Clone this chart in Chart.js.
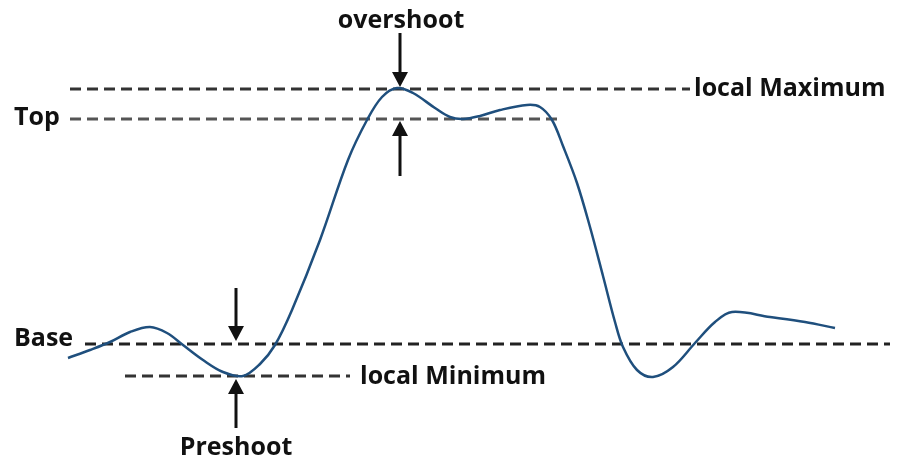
<!DOCTYPE html>
<html>
<head>
<meta charset="utf-8">
<script src="https://cdn.jsdelivr.net/npm/chart.js@4.4.0/dist/chart.umd.min.js"></script>
<style>
  html, body { margin: 0; padding: 0; background: #fff; }
  #wrap { width: 901px; height: 466px; }
</style>
</head>
<body>
<div id="wrap"><canvas id="pulseChart"></canvas></div>
<script>
// signal trace (x, y in picture units, y grows downward)
const curveX = [68, 90, 110, 130, 150, 167, 183, 203, 223, 243, 260, 275, 292, 320, 348, 367, 382, 397, 413, 435, 450, 463, 480, 500, 527, 540, 552, 563, 577, 590, 603, 615, 623, 637, 653, 673, 695, 715, 732, 770, 805, 835];
const curveY = [358, 350, 342, 332, 327, 333, 345, 360, 372, 376, 364, 345, 310, 240, 160, 120, 97, 88, 93, 108, 117, 119, 116, 110, 105, 107, 120, 146, 183, 227, 276, 322, 347, 370, 377, 367, 343, 322, 312, 317, 322, 328];

// reference levels
const levelNames = ['local Maximum', 'Top', 'Base', 'local Minimum'];
const levelY = [89, 119, 344, 376];
const levelFrom = [70, 70, 85, 125];
const levelTo = [690, 558, 890, 350];
const levelColor = ['#333333', '#555555', '#222222', '#333333'];

// arrows: x, tail y, tip y
const arrowX = [400, 400, 236, 236];
const arrowTail = [33, 176, 288, 428];
const arrowTip = [87, 121, 341, 379];

// text labels
const labelText = ['overshoot', 'local Maximum', 'Top', 'Base', 'local Minimum', 'Preshoot'];
const labelX = [401, 694, 14, 14, 360, 236];
const labelY = [21, 89, 118, 339, 377, 448];
const labelAlign = ['center', 'left', 'left', 'left', 'left', 'center'];

const datasets = [{
    data: curveX.map((x, i) => ({ x: x, y: curveY[i] })),
    borderColor: '#1f4f7d',
    borderWidth: 2.5,
    pointRadius: 0,
    tension: 0.35,
    order: 0
}];
levelNames.forEach((name, i) => {
    datasets.push({
        label: name,
        data: [{ x: levelFrom[i], y: levelY[i] }, { x: levelTo[i], y: levelY[i] }],
        borderColor: levelColor[i],
        borderWidth: 3,
        borderDash: [11, 6],
        pointRadius: 0,
        order: 1
    });
});

const annotationPlugin = {
    id: 'annotations',
    afterDatasetsDraw(chart) {
        const ctx = chart.ctx;
        const xs = chart.scales.x;
        const ys = chart.scales.y;
        ctx.save();
        ctx.fillStyle = '#111';
        ctx.strokeStyle = '#111';
        arrowX.forEach((ax, i) => {
            const px = xs.getPixelForValue(ax);
            const tail = ys.getPixelForValue(arrowTail[i]);
            const tip = ys.getPixelForValue(arrowTip[i]);
            const dir = tip > tail ? 1 : -1;
            const head = 15;
            ctx.lineWidth = 3;
            ctx.beginPath();
            ctx.moveTo(px, tail);
            ctx.lineTo(px, tip - dir * head);
            ctx.stroke();
            ctx.beginPath();
            ctx.moveTo(px, tip);
            ctx.lineTo(px - 8, tip - dir * head);
            ctx.lineTo(px + 8, tip - dir * head);
            ctx.closePath();
            ctx.fill();
        });
        ctx.font = 'bold 25px "Open Sans", "Noto Sans", sans-serif';
        ctx.textBaseline = 'middle';
        labelText.forEach((t, i) => {
            ctx.textAlign = labelAlign[i];
            ctx.fillText(t, xs.getPixelForValue(labelX[i]), ys.getPixelForValue(labelY[i]));
        });
        ctx.restore();
    }
};

new Chart(document.getElementById('pulseChart').getContext('2d'), {
    type: 'line',
    data: { datasets: datasets },
    options: {
        responsive: true,
        maintainAspectRatio: false,
        animation: false,
        layout: { padding: 0 },
        plugins: {
            legend: { display: false },
            tooltip: { enabled: false }
        },
        scales: {
            x: { type: 'linear', min: 0, max: 901, display: false },
            y: { type: 'linear', min: 0, max: 466, reverse: true, display: false }
        }
    },
    plugins: [annotationPlugin]
});
</script>
</body>
</html>
